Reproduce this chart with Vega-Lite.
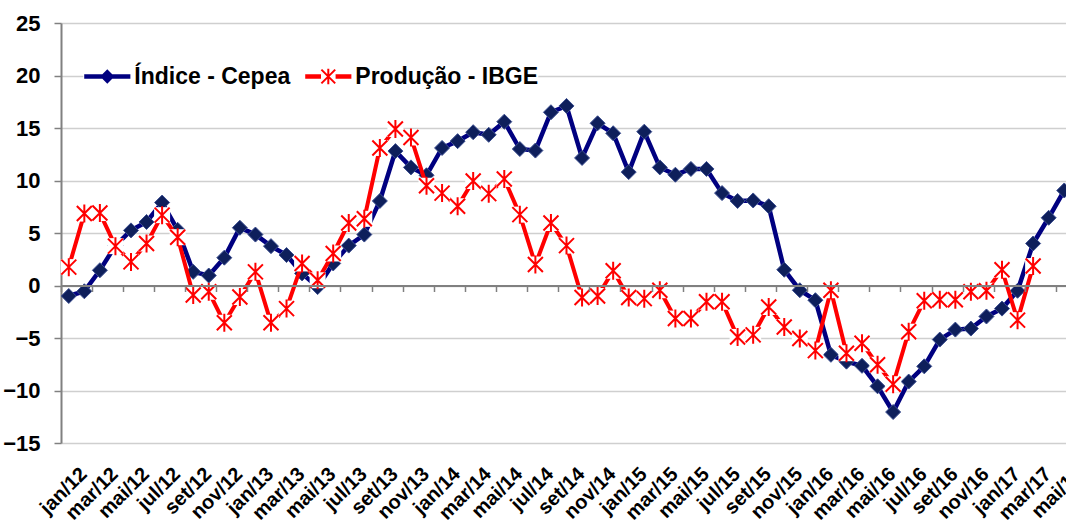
{
  "$schema": "https://vega.github.io/schema/vega-lite/v6.json",
  "width": 1005,
  "height": 420,
  "autosize": {"type": "none"},
  "padding": {"left": 61, "top": 23, "right": 0, "bottom": 80},
  "background": "white",
  "config": {"view": {"stroke": null}},
  "data": {"values": [
    {"m": "jan/12", "cepea": -1.0, "ibge": 1.75},
    {"m": "fev/12", "cepea": -0.55, "ibge": 6.85},
    {"m": "mar/12", "cepea": 1.45, "ibge": 6.9},
    {"m": "abr/12", "cepea": 3.8, "ibge": 3.75},
    {"m": "mai/12", "cepea": 5.25, "ibge": 2.25},
    {"m": "jun/12", "cepea": 6.05, "ibge": 4.0},
    {"m": "jul/12", "cepea": 7.9, "ibge": 6.7},
    {"m": "ago/12", "cepea": 5.3, "ibge": 4.6},
    {"m": "set/12", "cepea": 1.3, "ibge": -0.9},
    {"m": "out/12", "cepea": 0.95, "ibge": -0.6},
    {"m": "nov/12", "cepea": 2.65, "ibge": -3.55},
    {"m": "dez/12", "cepea": 5.5, "ibge": -1.1},
    {"m": "jan/13", "cepea": 4.85, "ibge": 1.3},
    {"m": "fev/13", "cepea": 3.75, "ibge": -3.55},
    {"m": "mar/13", "cepea": 2.9, "ibge": -2.2},
    {"m": "abr/13", "cepea": 1.15, "ibge": 2.1},
    {"m": "mai/13", "cepea": -0.15, "ibge": 0.5},
    {"m": "jun/13", "cepea": 2.1, "ibge": 3.05},
    {"m": "jul/13", "cepea": 3.8, "ibge": 5.95},
    {"m": "ago/13", "cepea": 4.85, "ibge": 6.35},
    {"m": "set/13", "cepea": 8.05, "ibge": 13.1},
    {"m": "out/13", "cepea": 12.8, "ibge": 14.9},
    {"m": "nov/13", "cepea": 11.25, "ibge": 14.1},
    {"m": "dez/13", "cepea": 10.5, "ibge": 9.5},
    {"m": "jan/14", "cepea": 13.1, "ibge": 8.8},
    {"m": "fev/14", "cepea": 13.75, "ibge": 7.55},
    {"m": "mar/14", "cepea": 14.6, "ibge": 9.95},
    {"m": "abr/14", "cepea": 14.35, "ibge": 8.75},
    {"m": "mai/14", "cepea": 15.6, "ibge": 10.15},
    {"m": "jun/14", "cepea": 13.0, "ibge": 6.75},
    {"m": "jul/14", "cepea": 12.85, "ibge": 2.0},
    {"m": "ago/14", "cepea": 16.5, "ibge": 5.95},
    {"m": "set/14", "cepea": 17.1, "ibge": 3.8},
    {"m": "out/14", "cepea": 12.15, "ibge": -1.15},
    {"m": "nov/14", "cepea": 15.45, "ibge": -1.0},
    {"m": "dez/14", "cepea": 14.5, "ibge": 1.4},
    {"m": "jan/15", "cepea": 10.8, "ibge": -1.15},
    {"m": "fev/15", "cepea": 14.65, "ibge": -1.25},
    {"m": "mar/15", "cepea": 11.25, "ibge": -0.45},
    {"m": "abr/15", "cepea": 10.55, "ibge": -3.15},
    {"m": "mai/15", "cepea": 11.1, "ibge": -3.15},
    {"m": "jun/15", "cepea": 11.1, "ibge": -1.55},
    {"m": "jul/15", "cepea": 8.8, "ibge": -1.55},
    {"m": "ago/15", "cepea": 8.05, "ibge": -4.9},
    {"m": "set/15", "cepea": 8.1, "ibge": -4.7},
    {"m": "out/15", "cepea": 7.55, "ibge": -2.05},
    {"m": "nov/15", "cepea": 1.5, "ibge": -3.95},
    {"m": "dez/15", "cepea": -0.45, "ibge": -5.05},
    {"m": "jan/16", "cepea": -1.4, "ibge": -6.2},
    {"m": "fev/16", "cepea": -6.6, "ibge": -0.45},
    {"m": "mar/16", "cepea": -7.25, "ibge": -6.45},
    {"m": "abr/16", "cepea": -7.65, "ibge": -5.5},
    {"m": "mai/16", "cepea": -9.6, "ibge": -7.55},
    {"m": "jun/16", "cepea": -12.05, "ibge": -9.4},
    {"m": "jul/16", "cepea": -9.15, "ibge": -4.4},
    {"m": "ago/16", "cepea": -7.7, "ibge": -1.45},
    {"m": "set/16", "cepea": -5.15, "ibge": -1.35},
    {"m": "out/16", "cepea": -4.2, "ibge": -1.35},
    {"m": "nov/16", "cepea": -4.1, "ibge": -0.6},
    {"m": "dez/16", "cepea": -2.95, "ibge": -0.5},
    {"m": "jan/17", "cepea": -2.2, "ibge": 1.5},
    {"m": "fev/17", "cepea": -0.5, "ibge": -3.3},
    {"m": "mar/17", "cepea": 4.0, "ibge": 1.85},
    {"m": "abr/17", "cepea": 6.45, "ibge": null},
    {"m": "mai/17", "cepea": 9.05, "ibge": null}
  ]},
  "transform": [{"fold": ["cepea", "ibge"], "as": ["series", "val"]}],
  "encoding": {
    "x": {
      "field": "m", "type": "ordinal", "sort": null,
      "scale": {"type": "band", "paddingInner": 0, "paddingOuter": 0, "range": [0, 1011]},
      "axis": {
        "title": null, "orient": "bottom", "offset": -157.5, "zindex": 1,
        "values": ["jan/12","mar/12","mai/12","jul/12","set/12","nov/12","jan/13","mar/13","mai/13","jul/13","set/13","nov/13","jan/14","mar/14","mai/14","jul/14","set/14","nov/14","jan/15","mar/15","mai/15","jul/15","set/15","nov/15","jan/16","mar/16","mai/16","jul/16","set/16","nov/16","jan/17","mar/17","mai/17"],
        "bandPosition": 0, "grid": false,
        "domain": true, "domainColor": "#808080", "domainWidth": 2,
        "ticks": true, "tickSize": 6, "tickColor": "#808080", "tickWidth": 1.5,
        "labelAngle": -45, "labelAlign": "right", "labelBaseline": "top",
        "labelPadding": 172, "labelOffset": 8, "labelOverlap": false, "labelBound": false,
        "labelFont": "Liberation Sans", "labelFontSize": 20, "labelFontWeight": "bold", "labelColor": "#000000"
      }
    },
    "y": {
      "field": "val", "type": "quantitative",
      "scale": {"domain": [-15, 25], "nice": false, "zero": false},
      "axis": {
        "title": null, "values": [-15, -10, -5, 0, 5, 10, 15, 20, 25],
        "grid": true, "gridColor": "#cfcfcf", "gridWidth": 1.3,
        "domain": true, "domainColor": "#808080", "domainWidth": 2,
        "ticks": true, "tickSize": 7, "tickColor": "#808080", "tickWidth": 1.5,
        "labelPadding": 14, "labelFont": "Liberation Sans", "labelFontSize": 22,
        "labelFontWeight": "bold", "labelColor": "#000000"
      }
    }
  },
  "layer": [
    {
      "transform": [{"filter": "datum.series == 'cepea'"}],
      "mark": {"type": "line", "color": "#000080", "strokeWidth": 4.5}
    },
    {
      "transform": [{"filter": "datum.series == 'cepea'"}],
      "mark": {"type": "point", "shape": "diamond", "filled": true, "fill": "#0e1f5b", "stroke": "#3a4d8f", "strokeWidth": 1, "size": 225, "opacity": 1}
    },
    {
      "transform": [{"filter": "datum.series == 'ibge'"}],
      "mark": {"type": "line", "color": "#ff0000", "strokeWidth": 4}
    },
    {
      "transform": [{"filter": "datum.series == 'ibge'"}],
      "mark": {"type": "point", "shape": "square", "filled": true, "color": "#ffffff", "size": 256, "opacity": 1}
    },
    {
      "transform": [{"filter": "datum.series == 'ibge'"}],
      "mark": {"type": "point", "shape": "M-1,-1L1,1M-1,1L1,-1M0,-1.2L0,1.2", "filled": false, "stroke": "#ff0000", "strokeWidth": 2, "size": 225, "opacity": 1}
    },
    {
      "mark": {"type": "point", "filled": true, "opacity": 0, "size": 2116},
      "encoding": {
        "color": {
          "field": "series", "type": "nominal",
          "scale": {"domain": ["cepea", "ibge"], "range": ["#000080", "#ff0000"]},
          "legend": {
            "title": null, "orient": "none", "legendX": 22.3, "legendY": 29.5, "direction": "horizontal",
            "symbolSize": 2116, "symbolStrokeWidth": 2, "symbolOpacity": 1,
            "labelFont": "Liberation Sans", "labelFontSize": 23, "labelFontWeight": "bold", "labelColor": "#000000",
            "labelOffset": 3, "columnPadding": 11, "padding": 0, "fillColor": "#ffffff", "labelLimit": 400,
            "labelExpr": "datum.value == 'cepea' ? 'Índice - Cepea' : 'Produção - IBGE'"
          }
        },
        "stroke": {
          "field": "series", "type": "nominal",
          "scale": {"domain": ["cepea", "ibge"], "range": ["#000080", "#ff0000"]},
          "legend": {
            "title": null, "orient": "none", "legendX": 22.3, "legendY": 29.5, "direction": "horizontal",
            "symbolSize": 2116, "symbolStrokeWidth": 2, "symbolOpacity": 1,
            "labelFont": "Liberation Sans", "labelFontSize": 23, "labelFontWeight": "bold", "labelColor": "#000000",
            "labelOffset": 3, "columnPadding": 11, "padding": 0, "fillColor": "#ffffff", "labelLimit": 400,
            "labelExpr": "datum.value == 'cepea' ? 'Índice - Cepea' : 'Produção - IBGE'"
          }
        },
        "shape": {
          "field": "series", "type": "nominal",
          "scale": {"domain": ["cepea", "ibge"], "range": [
            "M-0.96,-0.05L0.96,-0.05L0.96,0.05L-0.96,0.05Z M0,-0.25L0.25,0L0,0.25L-0.25,0Z",
            "M-0.96,-0.05L-0.36,-0.05L-0.36,0.05L-0.96,0.05Z M0.36,-0.05L0.96,-0.05L0.96,0.05L0.36,0.05Z M-0.3,-0.3L0.3,0.3 M-0.3,0.3L0.3,-0.3 M0,-0.34L0,0.34"
          ]},
          "legend": {
            "title": null, "orient": "none", "legendX": 22.3, "legendY": 29.5, "direction": "horizontal",
            "symbolSize": 2116, "symbolStrokeWidth": 2, "symbolOpacity": 1,
            "labelFont": "Liberation Sans", "labelFontSize": 23, "labelFontWeight": "bold", "labelColor": "#000000",
            "labelOffset": 3, "columnPadding": 11, "padding": 0, "fillColor": "#ffffff", "labelLimit": 400,
            "labelExpr": "datum.value == 'cepea' ? 'Índice - Cepea' : 'Produção - IBGE'"
          }
        }
      }
    }
  ]
}
